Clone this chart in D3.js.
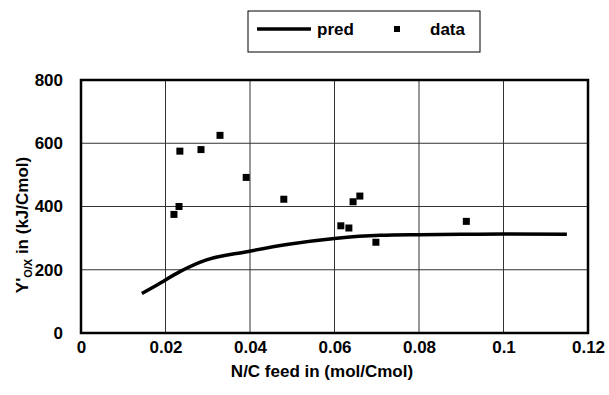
<!DOCTYPE html>
<html>
<head>
<meta charset="utf-8">
<script src="https://cdn.jsdelivr.net/npm/d3@7"></script>
<style>
  body { margin: 0; background: #fff; }
  svg text { font-family: "Liberation Sans", Arial, sans-serif; font-weight: bold; fill: #000; }
</style>
</head>
<body>
<div id="chart"></div>
<script>
// model prediction
const predX = [0.0144, 0.018, 0.0234, 0.0297, 0.0392, 0.0487, 0.060, 0.0708, 0.080, 0.090, 0.100, 0.115];
const predY = [125, 152, 194, 231, 257, 280, 299, 309, 311, 312, 313, 312];

// measured points
const dataX = [0.0220, 0.0232, 0.0234, 0.0284, 0.0329, 0.0391, 0.0480, 0.0615, 0.0634, 0.0644, 0.0660, 0.0698, 0.0912];
const dataY = [375, 400, 575, 580, 625, 492, 423, 339, 332, 415, 433, 287, 353];

const xTicks = [0, 0.02, 0.04, 0.06, 0.08, 0.1, 0.12];
const yTicks = [0, 200, 400, 600, 800];

const width = 609, height = 395;
const plot = { left: 81, top: 80, right: 588, bottom: 333 };
const fontSize = 17;

const svg = d3.select('#chart').append('svg')
    .attr('width', width)
    .attr('height', height);

const x = d3.scaleLinear().domain([0, 0.12]).range([plot.left, plot.right]);
const y = d3.scaleLinear().domain([0, 800]).range([plot.bottom, plot.top]);

// Gridlines
const grid = svg.append('g');
grid.selectAll('line.v')
    .data(xTicks.slice(1, -1))
    .join('line')
    .attr('x1', d => x(d)).attr('x2', d => x(d))
    .attr('y1', plot.top).attr('y2', plot.bottom)
    .attr('stroke', '#333').attr('stroke-width', 1);
grid.selectAll('line.h')
    .data(yTicks.slice(1, -1))
    .join('line')
    .attr('x1', plot.left).attr('x2', plot.right)
    .attr('y1', d => y(d)).attr('y2', d => y(d))
    .attr('stroke', '#333').attr('stroke-width', 1);

// Frame
svg.append('rect')
    .attr('x', plot.left).attr('y', plot.top)
    .attr('width', plot.right - plot.left)
    .attr('height', plot.bottom - plot.top)
    .attr('fill', 'none')
    .attr('stroke', '#000')
    .attr('stroke-width', 2.5);

// Axes (labels only, frame already drawn)
const xAxis = svg.append('g')
    .attr('transform', `translate(0,${plot.bottom})`)
    .call(d3.axisBottom(x).tickValues(xTicks).tickSize(0).tickPadding(8)
        .tickFormat(d => d3.format('~g')(d)));
const yAxis = svg.append('g')
    .attr('transform', `translate(${plot.left},0)`)
    .call(d3.axisLeft(y).tickValues(yTicks).tickSize(0).tickPadding(18));
[xAxis, yAxis].forEach(a => {
    a.select('.domain').remove();
    a.selectAll('text').attr('font-size', fontSize).attr('font-family', null);
});

// Prediction line
const pred = predX.map((v, i) => [v, predY[i]]);
svg.append('path')
    .datum(pred)
    .attr('d', d3.line().x(d => x(d[0])).y(d => y(d[1])).curve(d3.curveMonotoneX))
    .attr('fill', 'none')
    .attr('stroke', '#000')
    .attr('stroke-width', 3.5);

// Data markers
const pts = dataX.map((v, i) => [v, dataY[i]]);
const ms = 7;
svg.append('g').selectAll('rect')
    .data(pts)
    .join('rect')
    .attr('x', d => x(d[0]) - ms / 2)
    .attr('y', d => y(d[1]) - ms / 2)
    .attr('width', ms).attr('height', ms)
    .attr('fill', '#000');

// Axis titles
svg.append('text')
    .attr('x', 322).attr('y', 377)
    .attr('text-anchor', 'middle')
    .attr('font-size', fontSize)
    .text('N/C feed in (mol/Cmol)');

const yTitle = svg.append('text')
    .attr('transform', 'translate(28,225) rotate(-90)')
    .attr('text-anchor', 'middle')
    .attr('font-size', fontSize);
yTitle.append('tspan').text("Y'");
yTitle.append('tspan').attr('font-size', 11).attr('dy', 4).text('O/X');
yTitle.append('tspan').attr('dy', -4).text(' in (kJ/Cmol)');

// Legend
const legend = svg.append('g');
legend.append('rect')
    .attr('x', 248).attr('y', 11).attr('width', 232).attr('height', 41)
    .attr('fill', '#fff').attr('stroke', '#000').attr('stroke-width', 1);
legend.append('line')
    .attr('x1', 257).attr('x2', 311).attr('y1', 29).attr('y2', 29)
    .attr('stroke', '#000').attr('stroke-width', 3.5);
legend.append('text').attr('x', 317).attr('y', 35).attr('font-size', fontSize).text('pred');
legend.append('rect')
    .attr('x', 394).attr('y', 26).attr('width', 6).attr('height', 6).attr('fill', '#000');
legend.append('text').attr('x', 430).attr('y', 35).attr('font-size', fontSize).text('data');
</script>
</body>
</html>
